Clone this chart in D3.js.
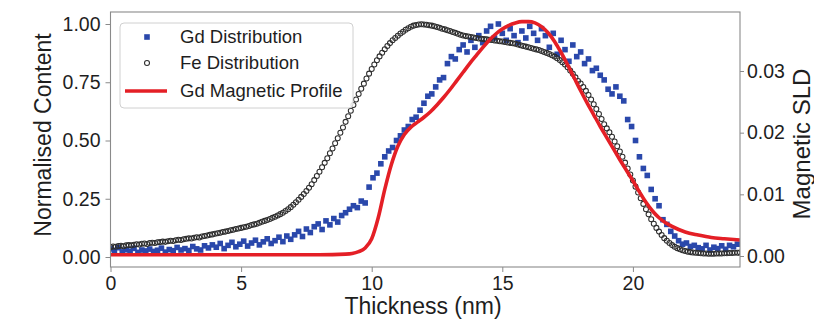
<!DOCTYPE html>
<html>
<head>
<meta charset="utf-8">
<script src="https://cdn.jsdelivr.net/npm/d3@7"></script>
<style>
  html, body { margin: 0; padding: 0; background: #fff; }
  svg { display: block; }
  text { font-family: "Liberation Sans", Arial, sans-serif; fill: #1e1e1e; }
</style>
</head>
<body>
<svg id="chart" width="814" height="322"></svg>
<script>
// ---------------- DATA ----------------
const xTicks = [0, 5, 10, 15, 20];
const leftTicks = [0, 0.25, 0.5, 0.75, 1.0];
const rightTicks = [0, 0.01, 0.02, 0.03];
const seriesNames = ["Gd Distribution", "Fe Distribution", "Gd Magnetic Profile"];

// Gd distribution (left axis), thickness step 0.15 nm starting at 0
const gdStep = 0.15;
const gdValues = [
  0.035,0.028,0.04,0.022,0.031,0.025,0.037,0.02,0.03,0.026,
  0.034,0.024,0.029,0.038,0.021,0.032,0.027,0.041,0.03,0.036,
  0.028,0.045,0.035,0.03,0.048,0.039,0.052,0.042,0.058,0.036,
  0.05,0.063,0.044,0.055,0.068,0.047,0.06,0.072,0.052,0.065,
  0.078,0.058,0.07,0.085,0.066,0.09,0.076,0.095,0.11,0.088,
  0.12,0.105,0.13,0.142,0.118,0.155,0.138,0.165,0.15,0.178,
  0.19,0.205,0.22,0.212,0.24,0.232,0.3,0.34,0.36,0.4,
  0.43,0.455,0.47,0.5,0.52,0.545,0.56,0.59,0.6,0.63,
  0.66,0.69,0.7,0.73,0.76,0.77,0.83,0.86,0.85,0.89,
  0.91,0.88,0.93,0.9,0.95,0.92,0.97,0.99,0.94,1.0,
  0.96,0.93,0.98,0.95,0.92,0.97,0.94,0.99,0.96,0.93,
  0.98,0.95,0.9,0.96,0.87,0.93,0.89,0.84,0.91,0.86,
  0.88,0.83,0.85,0.8,0.81,0.78,0.76,0.72,0.7,0.73,
  0.69,0.67,0.59,0.56,0.5,0.43,0.38,0.35,0.29,0.25,
  0.22,0.16,0.14,0.11,0.09,0.07,0.055,0.06,0.045,0.05,
  0.04,0.035,0.05,0.03,0.042,0.036,0.048,0.033,0.05,0.044,0.055
];

// Fe distribution (left axis), thickness step 0.1 nm starting at 0
const feStep = 0.1;
const feValues = [
  0.042,0.045,0.044,0.047,0.048,0.046,0.05,0.051,0.05,0.053,
  0.055,0.054,0.057,0.058,0.056,0.06,0.061,0.06,0.063,0.064,
  0.066,0.065,0.068,0.07,0.069,0.072,0.074,0.073,0.076,0.078,
  0.08,0.079,0.083,0.085,0.084,0.088,0.09,0.092,0.095,0.097,
  0.1,0.102,0.104,0.107,0.109,0.112,0.115,0.117,0.12,0.122,
  0.125,0.128,0.13,0.133,0.137,0.14,0.143,0.147,0.151,0.155,
  0.159,0.163,0.168,0.173,0.178,0.184,0.19,0.197,0.205,0.214,
  0.224,0.235,0.246,0.258,0.27,0.283,0.297,0.312,0.33,0.348,
  0.366,0.385,0.404,0.424,0.445,0.466,0.488,0.51,0.533,0.556,
  0.58,0.604,0.628,0.652,0.676,0.7,0.722,0.744,0.766,0.787,
  0.807,0.826,0.844,0.861,0.877,0.892,0.906,0.918,0.93,0.94,
  0.95,0.959,0.967,0.975,0.982,0.988,0.993,0.996,0.998,0.999,
  0.998,0.997,0.995,0.993,0.99,0.987,0.984,0.98,0.977,0.973,
  0.97,0.966,0.962,0.958,0.954,0.951,0.948,0.946,0.944,0.942,
  0.94,0.938,0.937,0.935,0.934,0.932,0.931,0.929,0.928,0.926,
  0.925,0.923,0.921,0.919,0.917,0.915,0.912,0.909,0.906,0.903,
  0.9,0.897,0.894,0.891,0.888,0.884,0.88,0.876,0.871,0.866,
  0.86,0.853,0.845,0.836,0.826,0.814,0.8,0.786,0.771,0.755,
  0.745,0.73,0.713,0.695,0.676,0.656,0.635,0.614,0.592,0.57,
  0.552,0.535,0.516,0.496,0.475,0.453,0.43,0.405,0.38,0.354,
  0.328,0.302,0.277,0.252,0.228,0.205,0.183,0.162,0.143,0.125,
  0.109,0.094,0.081,0.07,0.06,0.051,0.044,0.038,0.033,0.029,
  0.026,0.023,0.021,0.019,0.018,0.017,0.016,0.015,0.015,0.014,
  0.014,0.014,0.015,0.015,0.015,0.016,0.016,0.017,0.017,0.018,
  0.018,0.019
];

// Gd magnetic profile (right axis)
const magThickness = [0,1,2,3,4,5,6,7,8,9,9.25,9.5,9.75,10,10.25,10.5,10.75,11,11.25,11.5,11.75,12,12.25,12.5,12.75,13,13.25,13.5,13.75,14,14.25,14.5,14.75,15,15.25,15.5,15.75,16,16.25,16.5,16.75,17,17.25,17.5,17.75,18,18.25,18.5,18.75,19,19.25,19.5,19.75,20,20.25,20.5,20.75,21,21.25,21.5,21.75,22,22.5,23,23.5,24.1];
const magValues = [0.0002,0.0002,0.0002,0.0002,0.0002,0.0002,0.0002,0.0002,0.0002,0.0003,0.0004,0.0007,0.0013,0.0028,0.0062,0.0108,0.0148,0.0178,0.0197,0.0209,0.0217,0.0225,0.0234,0.0245,0.0257,0.027,0.0284,0.0298,0.0312,0.0325,0.0338,0.035,0.036,0.0368,0.0374,0.0378,0.038,0.038,0.0378,0.0372,0.0362,0.0348,0.033,0.031,0.0289,0.0268,0.0248,0.0229,0.021,0.0192,0.0174,0.0156,0.0139,0.0122,0.0104,0.0087,0.0073,0.0062,0.0054,0.0048,0.0043,0.0039,0.0034,0.003,0.0028,0.0026];

// ---------------- CHART ----------------
const svg = d3.select("#chart");
const L = 110.5, R = 740, T = 12, B = 267;

const x = d3.scaleLinear().domain([0, 24.1]).range([L, R]);
const yL = d3.scaleLinear().domain([-10/233, 245/233]).range([B, T]);
const yR = d3.scaleLinear().domain([-11/6166.7, 244/6166.7]).range([B, T]);

const gdData = gdValues.map((v, i) => ({ t: i * gdStep, v }));
const feData = feValues.map((v, i) => ({ t: i * feStep, v }));
const magData = magValues.map((v, i) => ({ t: magThickness[i], v }));

const BLUE = "#2a48ab", RED = "#e41f26", CIRC = "#2e2e2e", SPINE = "#8a8a8a";

svg.append("defs").append("clipPath").attr("id", "clip")
  .append("rect").attr("x", L).attr("y", T).attr("width", R - L).attr("height", B - T);

const plot = svg.append("g").attr("clip-path", "url(#clip)");

// Gd squares
plot.append("g").selectAll("rect").data(gdData).join("rect")
  .attr("x", d => x(d.t) - 2.8).attr("y", d => yL(d.v) - 2.8)
  .attr("width", 5.6).attr("height", 5.6).attr("fill", BLUE);

// Fe circles
plot.append("g").selectAll("circle").data(feData).join("circle")
  .attr("cx", d => x(d.t)).attr("cy", d => yL(d.v)).attr("r", 2.5)
  .attr("fill", "none").attr("stroke", CIRC).attr("stroke-width", 1.05);

// Magnetic profile line
plot.append("path").datum(magData)
  .attr("d", d3.line().x(d => x(d.t)).y(d => yR(d.v)).curve(d3.curveMonotoneX))
  .attr("fill", "none").attr("stroke", RED).attr("stroke-width", 3.6)
  .attr("stroke-linejoin", "round");

// Axes
const fmt2 = d3.format(".2f");
const axB = svg.append("g").attr("transform", `translate(0,${B})`)
  .call(d3.axisBottom(x).tickValues(xTicks).tickFormat(d3.format("d")).tickSize(5).tickPadding(4));
const axL = svg.append("g").attr("transform", `translate(${L},0)`)
  .call(d3.axisLeft(yL).tickValues(leftTicks).tickFormat(fmt2).tickSize(5).tickPadding(5));
const axR = svg.append("g").attr("transform", `translate(${R},0)`)
  .call(d3.axisRight(yR).tickValues(rightTicks).tickFormat(fmt2).tickSize(4).tickPadding(3));

[axB, axL, axR].forEach(g => {
  g.select(".domain").remove();
  g.selectAll(".tick line").attr("stroke", SPINE).attr("stroke-width", 1);
  g.selectAll(".tick text").attr("font-size", 19.5).attr("fill", "#1e1e1e")
    .attr("font-family", "Liberation Sans, Arial, sans-serif");
});

// Frame
svg.append("rect").attr("x", L).attr("y", T).attr("width", R - L).attr("height", B - T)
  .attr("fill", "none").attr("stroke", SPINE).attr("stroke-width", 1.1);

// Axis labels
svg.append("text").attr("transform", "translate(51,135) rotate(-90)")
  .attr("text-anchor", "middle").attr("font-size", 23).text("Normalised Content");
svg.append("text").attr("x", 423).attr("y", 314)
  .attr("text-anchor", "middle").attr("font-size", 23).text("Thickness (nm)");
svg.append("text").attr("transform", "translate(810,144) rotate(-90)")
  .attr("text-anchor", "middle").attr("font-size", 24).text("Magnetic SLD");

// Legend
const lg = svg.append("g");
lg.append("rect").attr("x", 120).attr("y", 23).attr("width", 233).attr("height", 85)
  .attr("rx", 4).attr("fill", "#fff").attr("fill-opacity", 0.85)
  .attr("stroke", "#d0d0d0").attr("stroke-width", 1);
const rowsY = [37, 63, 91];
lg.append("rect").attr("x", 147 - 2.8).attr("y", rowsY[0] - 2.8).attr("width", 5.6).attr("height", 5.6).attr("fill", BLUE);
lg.append("circle").attr("cx", 147).attr("cy", rowsY[1]).attr("r", 2.5)
  .attr("fill", "none").attr("stroke", CIRC).attr("stroke-width", 1.05);
lg.append("line").attr("x1", 125).attr("x2", 167).attr("y1", rowsY[2]).attr("y2", rowsY[2])
  .attr("stroke", RED).attr("stroke-width", 3.6);
seriesNames.forEach((n, i) => {
  lg.append("text").attr("x", 180).attr("y", rowsY[i]).attr("dy", "0.35em")
    .attr("font-size", 18.5).text(n);
});
</script>
</body>
</html>
